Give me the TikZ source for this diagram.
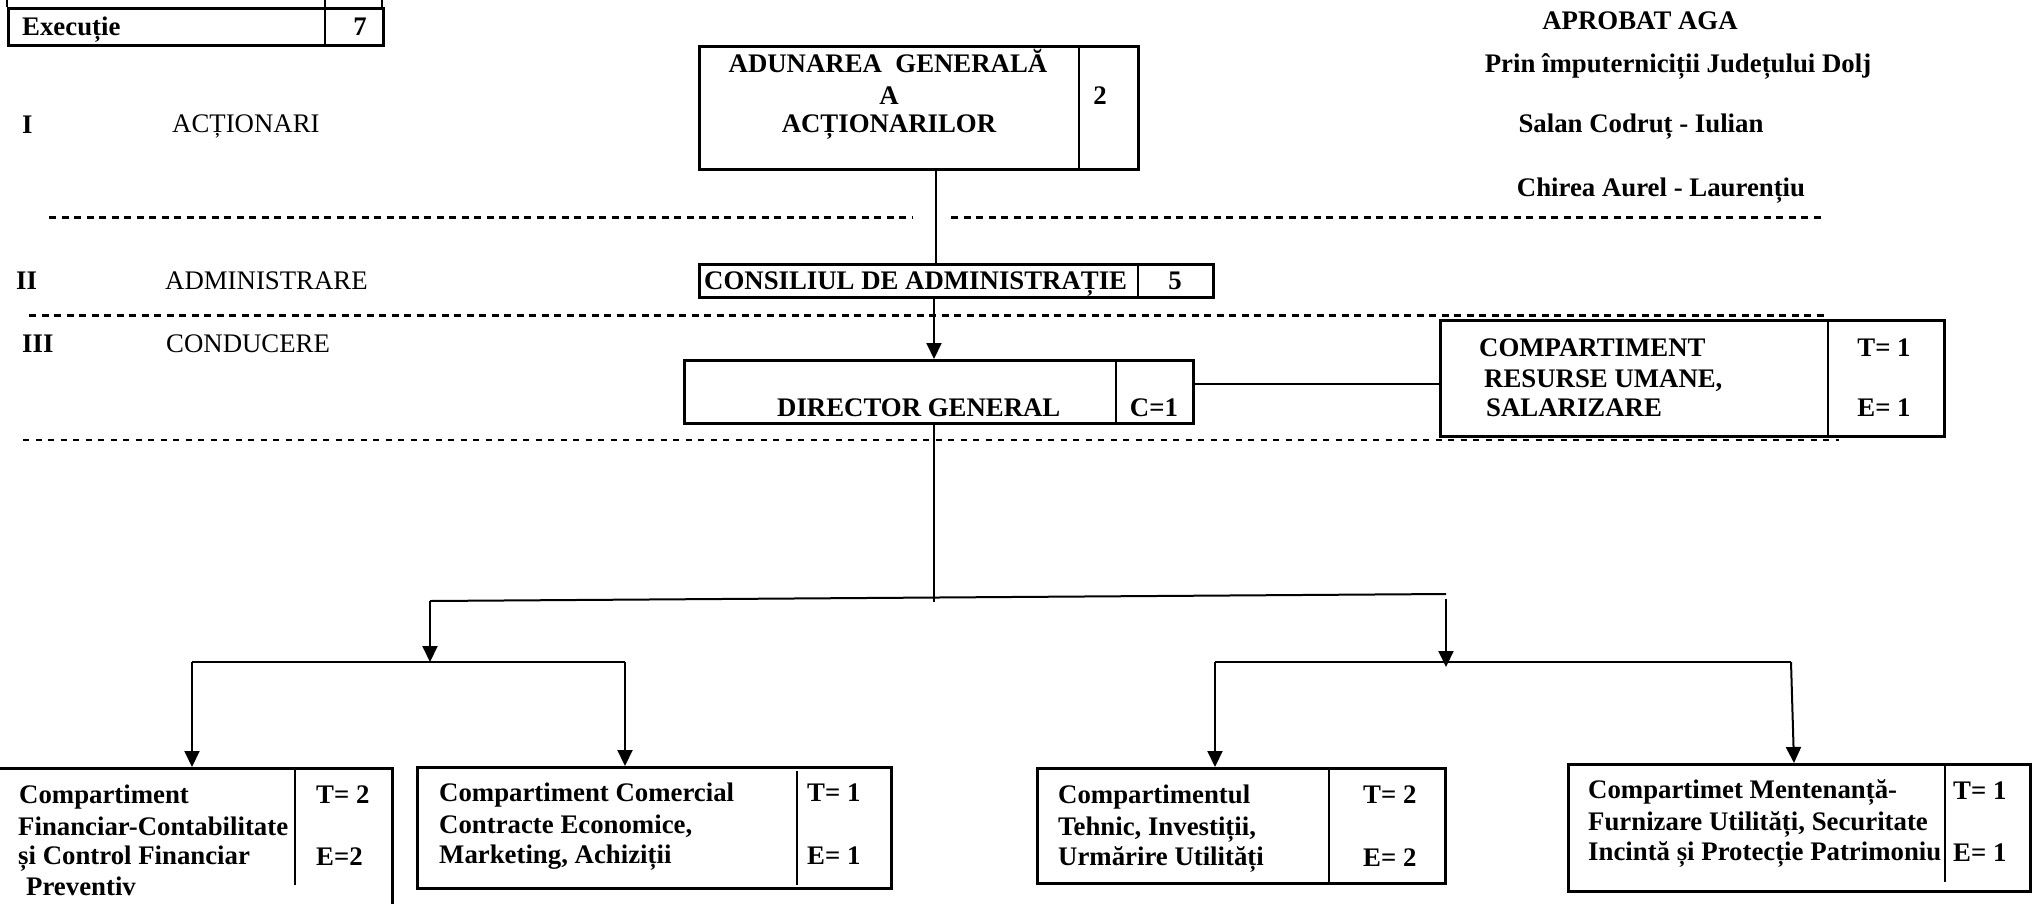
\documentclass[tikz,border=0pt]{standalone}
\usepackage{fontspec}
\setmainfont{Liberation Serif}
\usetikzlibrary{arrows.meta}
\begin{document}
\begin{tikzpicture}[x=1pt,y=-1pt,
  bx/.style={draw, line width=2.5pt, anchor=north west, inner sep=0pt},
  bxl/.style={line width=2.5pt},
  sepl/.style={line width=1.6pt},
  con/.style={line width=2pt},
  arr/.style={line width=2pt, -{Triangle[width=15pt,length=16pt]}},
  dsh/.style={line width=3pt, dash pattern=on 7pt off 5.5pt},
  dshthin/.style={line width=2pt, dash pattern=on 6pt off 6.5pt},
  tb/.style={font=\fontsize{26.8}{30.5}\selectfont\bfseries, inner sep=0pt, anchor=base west},
  tbc/.style={font=\fontsize{26.8}{30.5}\selectfont\bfseries, inner sep=0pt, anchor=base},
  tr/.style={font=\fontsize{26.8}{30.5}\selectfont, inner sep=0pt, anchor=base west},
]
\useasboundingbox (0,0) rectangle (2038,903);
\clip (0,0) rectangle (2038,903);
\fill[white] (0,0) rectangle (2038,903);

% ---------- top-left table ----------
\node[bx, minimum width=375pt, minimum height=37pt] (tab) at (7,7) {};
\draw[bxl] (7,7) -- (7,-5);
\draw[bxl] (382,7) -- (382,-5);
\draw[sepl] (325,-5) -- (325,44);
\node[tb] (tabt) at (22,35) {Execuție};
\node[tbc] (tabn) at (360,35) {7};

% ---------- level labels ----------
\node[tb] (l1) at (22,133) {I};
\node[tr] (l1t) at (172,132) {ACȚIONARI};
\node[tb] (l2) at (16,289) {II};
\node[tr] (l2t) at (165,289) {ADMINISTRARE};
\node[tb] (l3) at (22,352) {III};
\node[tr] (l3t) at (166,352) {CONDUCERE};

% ---------- approval text ----------
\node[tbc] (ap1) at (1640,29) {APROBAT AGA};
\node[tbc] (ap2) at (1678,72) {Prin împuterniciții Județului Dolj};
\node[tbc] (ap3) at (1641,132) {Salan Codruț - Iulian};
\node[tbc] (ap4) at (1661,196) {Chirea Aurel - Laurențiu};

% ---------- dashed separators ----------
\draw[dsh] (49,217) -- (913,217);
\draw[dsh] (951,217) -- (1822,217);
\draw[dsh] (29,315) -- (1827,315);
\draw[dshthin] (23,440) -- (1839,440);

% ---------- boxes ----------
\node[bx, minimum width=439pt, minimum height=123pt] (aga) at (698,45) {};
\draw[sepl] (1079,45) -- (1079,168);
\node[tbc] (aga1) at (888,72) {ADUNAREA\ \ GENERALĂ};
\node[tbc] (aga2) at (889,104) {A};
\node[tbc] (aga3) at (889,132) {ACȚIONARILOR};
\node[tbc] (agan) at (1100,104) {2};

\node[bx, minimum width=514pt, minimum height=33pt] (ca) at (698,263) {};
\draw[sepl] (1138,263) -- (1138,296);
\node[tb] (ca1) at (704,289) {CONSILIUL DE ADMINISTRAȚIE};
\node[tbc] (can) at (1175,289) {5};

\node[bx, minimum width=509pt, minimum height=63pt] (dg) at (683,359) {};
\draw[sepl] (1116,359) -- (1116,422);
\node[tb] (dg1) at (777,416) {DIRECTOR GENERAL};
\node[tbc] (dgn) at (1154,416) {C=1};

\node[bx, minimum width=504pt, minimum height=116pt] (hr) at (1439,319) {};
\draw[sepl] (1828,319) -- (1828,435);
\node[tb] (hr1) at (1479,356) {COMPARTIMENT};
\node[tb] (hr2) at (1484,387) {RESURSE UMANE,};
\node[tb] (hr3) at (1486,416) {SALARIZARE};
\node[tbc] (hrt) at (1884,356) {T= 1};
\node[tbc] (hre) at (1884,416) {E= 1};

\node[bx, minimum width=401pt, minimum height=150pt] (fc) at (-10,767) {};
\draw[sepl] (295,767) -- (295,885);
\node[tb] (fc1) at (19,803) {Compartiment};
\node[tb] (fc2) at (18,835) {Financiar-Contabilitate};
\node[tb] (fc3) at (18,864) {și Control Financiar};
\node[tb] (fc4) at (26,895) {Preventiv};
\node[tb] (fct) at (316,803) {T= 2};
\node[tb] (fce) at (316,865) {E=2};

\node[bx, minimum width=474pt, minimum height=121pt] (cc) at (416,766) {};
\draw[sepl] (797,771) -- (797,885);
\node[tb] (cc1) at (439,801) {Compartiment Comercial};
\node[tb] (cc2) at (439,833) {Contracte Economice,};
\node[tb] (cc3) at (439,863) {Marketing, Achiziții};
\node[tb] (cct) at (807,801) {T= 1};
\node[tb] (cce) at (807,864) {E= 1};

\node[bx, minimum width=408pt, minimum height=115pt] (ti) at (1036,767) {};
\draw[sepl] (1329,770) -- (1329,882);
\node[tb] (ti1) at (1058,803) {Compartimentul};
\node[tb] (ti2) at (1058,835) {Tehnic, Investiții,};
\node[tb] (ti3) at (1058,865) {Urmărire Utilități};
\node[tb] (tit) at (1363,803) {T= 2};
\node[tb] (tie) at (1363,866) {E= 2};

\node[bx, minimum width=462pt, minimum height=127pt] (mp) at (1567,763) {};
\draw[sepl] (1945,763) -- (1945,882);
\node[tb] (mp1) at (1588,798) {Compartimet Mentenanță-};
\node[tb] (mp2) at (1588,830) {Furnizare Utilități, Securitate};
\node[tb] (mp3) at (1588,860) {Incintă și Protecție Patrimoniu};
\node[tb] (mpt) at (1953,799) {T= 1};
\node[tb] (mpe) at (1953,861) {E= 1};

% ---------- connectors ----------
\coordinate (xa) at (936,0);
\coordinate (xb) at (934,0);
\coordinate (yh) at (0,384);
\draw[con] (aga.south -| xa) -- (ca.north -| xa);
\draw[arr] (ca.south -| xb) -- (dg.north -| xb);
\draw[con] (dg.east |- yh) -- (hr.west |- yh);
\coordinate (bj) at (934,602);
\draw[con] (dg.south -| xb) -- (bj);
\coordinate (bl) at (430,601);
\coordinate (br) at (1446,594);
\draw[con] (bl) -- (br);
\coordinate (ls) at (430,662);
\draw[arr] (bl) -- (ls);
\coordinate (lsl) at (192,662);
\coordinate (lsr) at (625,662);
\draw[con] (lsl) -- (lsr);
\draw[arr] (lsl) -- (fc.north -| lsl);
\draw[arr] (lsr) -- (cc.north -| lsr);
\coordinate (rs0) at (1446,599);
\coordinate (rs) at (1446,667);
\draw[arr] (rs0) -- (rs);
\coordinate (rsl) at (1215,662);
\coordinate (rsr) at (1791,662);
\coordinate (mpx) at (1794,0);
\draw[con] (rsl) -- (rsr);
\draw[arr] (rsl) -- (ti.north -| rsl);
\draw[arr] (rsr) -- (mp.north -| mpx);
\end{tikzpicture}
\end{document}
